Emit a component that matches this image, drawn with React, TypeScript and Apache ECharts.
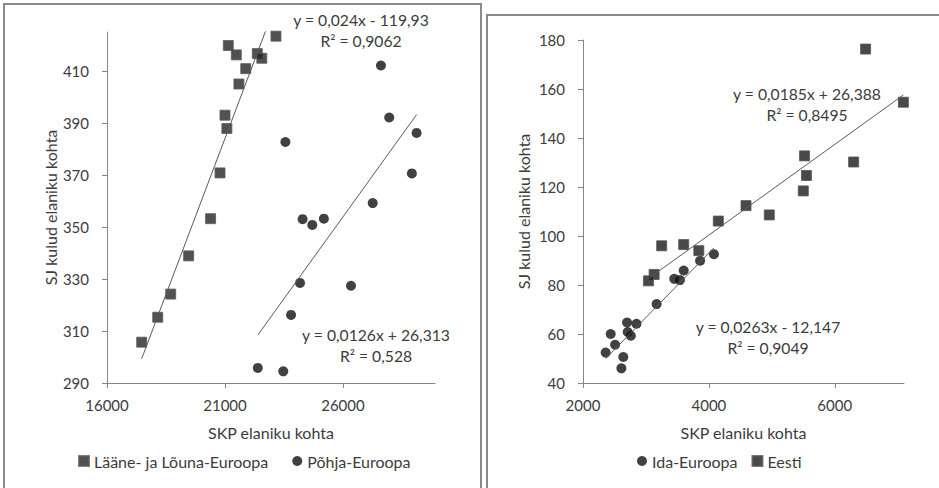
import React, { useEffect, useRef } from "react";
import * as echarts from "echarts";

const FONT = "Lato, 'Open Sans', sans-serif";
const TEXT = "#3c3c3c";
const AXIS = "#868686";

// Left chart
const westSouthName = "Lääne- ja Lõuna-Euroopa";
const westSouthX = [17470, 18150, 18700, 19460, 20390, 20790, 21080, 21000, 21590, 21880, 21140, 21480, 22370, 22560, 23160];
const westSouthY = [305.7, 315.3, 324.2, 338.9, 353.2, 370.8, 387.9, 393.0, 405.0, 410.9, 419.8, 416.2, 416.7, 414.9, 423.4];
const northName = "Põhja-Euroopa";
const northX = [27610, 27960, 29120, 23560, 28920, 27260, 24290, 24700, 25190, 24180, 26340, 23800, 22390, 23470];
const northY = [412.1, 392.1, 386.2, 382.7, 370.6, 359.2, 353.0, 350.8, 353.2, 328.5, 327.4, 316.2, 295.8, 294.5];
const westSouthTrend = [0.024, -119.93];
const northTrend = [0.0126, 26.313];
const westSouthEq = ["y = 0,024x - 119,93", "R² = 0,9062"];
const northEq = ["y = 0,0126x + 26,313", "R² = 0,528"];
const leftXTicks = [16000, 21000, 26000];
const leftYTicks = [290, 310, 330, 350, 370, 390, 410];

// Right chart
const eastName = "Ida-Euroopa";
const eastX = [4080, 3860, 3600, 3450, 3540, 3170, 2700, 2850, 2710, 2760, 2440, 2510, 2360, 2640, 2610];
const eastY = [92.6, 89.9, 85.9, 82.5, 82.0, 72.2, 64.7, 64.2, 60.8, 59.3, 60.0, 55.6, 52.4, 50.6, 46.0];
const estoniaName = "Eesti";
const estoniaX = [6490, 7090, 5520, 6300, 5550, 5500, 4590, 4960, 4150, 3250, 3600, 3840, 3130, 3040];
const estoniaY = [176.3, 154.6, 132.7, 130.2, 124.7, 118.4, 112.4, 108.6, 106.1, 96.0, 96.5, 94.0, 84.3, 81.7];
const eastTrend = [0.0263, -12.147];
const estoniaTrend = [0.0185, 26.388];
const eastEq = ["y = 0,0263x - 12,147", "R² = 0,9049"];
const estoniaEq = ["y = 0,0185x + 26,388", "R² = 0,8495"];
const rightXTicks = [2000, 4000, 6000];
const rightYTicks = [40, 60, 80, 100, 120, 140, 160, 180];

const xTitle = "SKP elaniku kohta";
const yTitle = "SJ kulud elaniku kohta";

const zip = (xs: number[], ys: number[]) => xs.map((x, i) => [x, ys[i]]);
const trendData = (xs: number[], t: number[]) => {
  const lo = Math.min(...xs);
  const hi = Math.max(...xs);
  return [
    [lo, t[0] * lo + t[1]],
    [hi, t[0] * hi + t[1]],
  ];
};

const fontBase = { fontFamily: FONT, color: TEXT };
const TICK_FS = 15;
const TITLE_FS = 16;
const LEGEND_FS = 16;
const EQ_FS = 15.7;

function xAxisDef(gridIndex: number, min: number, max: number, ticks: number[]) {
  return {
    gridIndex,
    type: "value",
    min,
    max,
    name: xTitle,
    nameLocation: "middle",
    nameGap: 41,
    nameTextStyle: { ...fontBase, fontSize: TITLE_FS },
    axisLine: { show: true, onZero: false, lineStyle: { color: AXIS, width: 1 } },
    axisTick: { show: true, inside: false, length: 5, customValues: ticks, lineStyle: { color: AXIS } },
    axisLabel: {
      show: true,
      customValues: ticks,
      margin: 14,
      formatter: (v: number) => String(v),
      ...fontBase,
      fontSize: TICK_FS,
    },
    splitLine: { show: false },
  };
}

function yAxisDef(gridIndex: number, min: number, max: number, ticks: number[], nameGap: number) {
  return {
    gridIndex,
    type: "value",
    min,
    max,
    name: yTitle,
    nameLocation: "middle",
    nameGap,
    nameTextStyle: { ...fontBase, fontSize: TITLE_FS },
    axisLine: { show: true, onZero: false, lineStyle: { color: AXIS, width: 1 } },
    axisTick: { show: true, inside: false, length: 5, customValues: ticks, lineStyle: { color: AXIS } },
    axisLabel: {
      show: true,
      customValues: ticks,
      margin: 18,
      formatter: (v: number) => String(v),
      ...fontBase,
      fontSize: TICK_FS,
    },
    splitLine: { show: false },
  };
}

function eqText(lines: string[], cx: number, cy: number) {
  return lines.map((t, i) => ({
    type: "text",
    x: cx,
    y: cy + i * 21,
    style: { text: t, fontFamily: FONT, fill: TEXT, fontSize: EQ_FS, textAlign: "center", textVerticalAlign: "middle" },
    z: 10,
  }));
}

const trendStyle = { color: "#5a5a5a", width: 1 };

export default function App() {
  const ref = useRef<HTMLDivElement>(null);
  useEffect(() => {
    document.body.style.margin = "0";
    const chart = echarts.init(ref.current!, null, { renderer: "svg" });
    const option: any = {
      animation: false,
      backgroundColor: "#ffffff",
      textStyle: { fontFamily: FONT },
      grid: [
        { left: 107, top: 32, width: 328, height: 351, outerBoundsMode: "none" },
        { left: 583, top: 40, width: 321, height: 343, outerBoundsMode: "none" },
      ],
      xAxis: [xAxisDef(0, 16000, 29900, leftXTicks), xAxisDef(1, 2000, 7100, rightXTicks)],
      yAxis: [yAxisDef(0, 290, 425, leftYTicks, 49), yAxisDef(1, 40, 180, rightYTicks, 52)],
      legend: [
        {
          data: [westSouthName, northName],
          left: 78,
          top: 453,
          padding: 0,
          itemWidth: 10,
          itemHeight: 10,
          itemGap: 24,
          textStyle: { ...fontBase, fontSize: LEGEND_FS },
        },
        {
          data: [eastName, estoniaName],
          left: 637,
          top: 453,
          padding: 0,
          itemWidth: 10,
          itemHeight: 10,
          itemGap: 14,
          textStyle: { ...fontBase, fontSize: LEGEND_FS },
        },
      ],
      series: [
        {
          name: westSouthName,
          type: "scatter",
          xAxisIndex: 0,
          yAxisIndex: 0,
          symbol: "rect",
          symbolSize: 10,
          itemStyle: { color: "#262626", borderColor: "#5c5c5c", borderWidth: 1 },
          data: zip(westSouthX, westSouthY),
          z: 2,
        },
        {
          name: northName,
          type: "scatter",
          xAxisIndex: 0,
          yAxisIndex: 0,
          symbol: "circle",
          symbolSize: 10,
          itemStyle: { color: "#111111" },
          data: zip(northX, northY),
          z: 2,
        },
        {
          type: "line",
          xAxisIndex: 0,
          yAxisIndex: 0,
          showSymbol: false,
          symbol: "none",
          clip: true,
          lineStyle: trendStyle,
          data: trendData(westSouthX, westSouthTrend),
          silent: true,
          z: 3,
        },
        {
          type: "line",
          xAxisIndex: 0,
          yAxisIndex: 0,
          showSymbol: false,
          symbol: "none",
          clip: true,
          lineStyle: trendStyle,
          data: trendData(northX, northTrend),
          silent: true,
          z: 3,
        },
        {
          name: eastName,
          type: "scatter",
          xAxisIndex: 1,
          yAxisIndex: 1,
          symbol: "circle",
          symbolSize: 10,
          itemStyle: { color: "#111111" },
          data: zip(eastX, eastY),
          z: 2,
        },
        {
          name: estoniaName,
          type: "scatter",
          xAxisIndex: 1,
          yAxisIndex: 1,
          symbol: "rect",
          symbolSize: 10,
          itemStyle: { color: "#1c1c1c", borderColor: "#555555", borderWidth: 1 },
          data: zip(estoniaX, estoniaY),
          z: 2,
        },
        {
          type: "line",
          xAxisIndex: 1,
          yAxisIndex: 1,
          showSymbol: false,
          symbol: "none",
          clip: true,
          lineStyle: trendStyle,
          data: trendData(eastX, eastTrend),
          silent: true,
          z: 3,
        },
        {
          type: "line",
          xAxisIndex: 1,
          yAxisIndex: 1,
          showSymbol: false,
          symbol: "none",
          clip: true,
          lineStyle: trendStyle,
          data: trendData(estoniaX, estoniaTrend),
          silent: true,
          z: 3,
        },
      ],
      graphic: [
        {
          type: "rect",
          shape: { x: 4, y: 4, width: 477, height: 520 },
          style: { fill: "none", stroke: "#8a8a8a", lineWidth: 2 },
          silent: true,
        },
        {
          type: "rect",
          shape: { x: 487, y: 15, width: 470, height: 520 },
          style: { fill: "none", stroke: "#8a8a8a", lineWidth: 2 },
          silent: true,
        },
        ...eqText(westSouthEq, 361, 20),
        ...eqText(northEq, 376, 335),
        ...eqText(estoniaEq, 807, 94),
        ...eqText(eastEq, 768, 327),
      ],
    };
    chart.setOption(option);
    return () => chart.dispose();
  }, []);
  return <div ref={ref} style={{ width: 939, height: 488 }} />;
}
